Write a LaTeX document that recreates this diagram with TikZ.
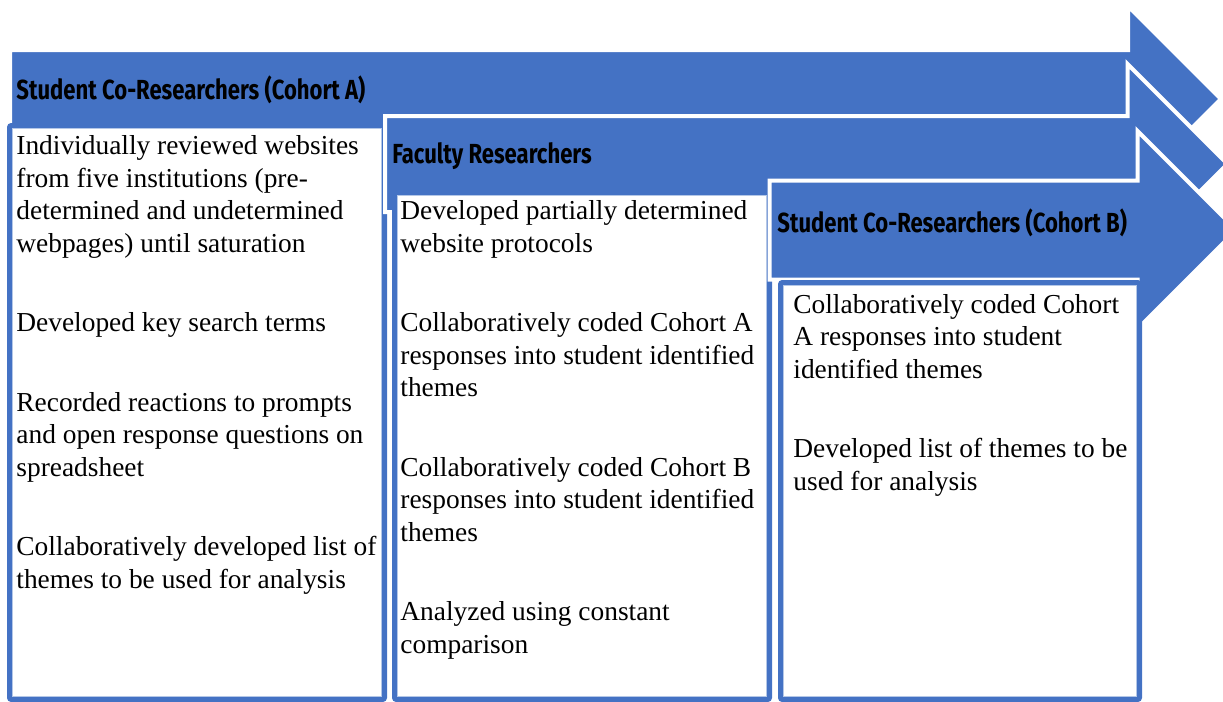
\documentclass[tikz,border=0pt]{standalone}
\usepackage{fontspec}
\setmainfont{Liberation Serif}
\newfontfamily\headfont{Fira Sans}[FakeStretch=0.8]
\definecolor{procblue}{HTML}{4472C4}
\definecolor{edgeblue}{HTML}{B4C7E7}
\tikzset{
	arrowshape/.style={fill=procblue, draw=white, line width=2pt, line join=miter},
	boxshape/.style={draw=procblue, fill=white, line width=2.5pt, rounded corners=1pt},
	boxedge/.style={draw=edgeblue, line width=0.5pt},
	headtext/.style={anchor=base west, inner sep=0pt, font=\headfont\bfseries\fontsize{13.8}{16}\selectfont},
	bodytext/.style={anchor=base west, inner sep=0pt, align=left, font=\fontsize{13.7}{16.25}\selectfont},
}
\begin{document}
\begin{tikzpicture}[x=0.5pt, y=-0.5pt]
			\def\ParGap{23.5pt}
			\def\BoxBottom{699.5}
			\useasboundingbox (0,0) rectangle (1223,702);
			\clip (0,0) rectangle (1223,702);
			% arrow, then its box: left x / centre y / shaft half / head x / head half / box left / box top / box right
			\foreach \lx/\cy/\sh/\hx/\hh/\bl/\bt/\br in {
					10/99/49/1128/93/9.5/125.5/384.5,
					385/164/48/1127.5/100/394.5/192.5/769.5,
					769.5/230/49.5/1137.5/99/780.5/282.5/1139.5}
				{
				\draw[arrowshape]
					(\lx,{\cy-\sh}) -- (\hx,{\cy-\sh}) -- (\hx,{\cy-\hh})
					-- ({\hx+\hh},\cy)
					-- (\hx,{\cy+\hh}) -- (\hx,{\cy+\sh}) -- (\lx,{\cy+\sh}) -- cycle;
				\draw[boxshape] (\bl,\bt) rectangle (\br,\BoxBottom);
				\draw[boxedge] ({\bl+3},{\bt+3}) rectangle ({\br-3},{\BoxBottom-3});
				}
			% headings
			\node[headtext] (headA) at (16,99) {Student Co-Researchers (Cohort A)};
			\node[headtext] (headF) at (392,163) {Faculty Researchers};
			\node[headtext] (headB) at (777,232) {Student Co-Researchers (Cohort B)};
			% box texts (placed at the baseline of their last line)
			\node[bodytext] (bodyA) at (16,588) {Individually reviewed websites\\from five institutions (pre-\\determined and undetermined\\webpages) until saturation\\[\ParGap]Developed key search terms\\[\ParGap]Recorded reactions to prompts\\and open response questions on\\spreadsheet\\[\ParGap]Collaboratively developed list of\\themes to be used for analysis};
			\node[bodytext] (bodyF) at (400,653) {Developed partially determined\\website protocols\\[\ParGap]Collaboratively coded Cohort A\\responses into student identified\\themes\\[\ParGap]Collaboratively coded Cohort B\\responses into student identified\\themes\\[\ParGap]Analyzed using constant\\comparison};
			\node[bodytext] (bodyB) at (793,490) {Collaboratively coded Cohort\\A responses into student\\identified themes\\[\ParGap]Developed list of themes to be\\used for analysis};
\end{tikzpicture}
\end{document}
